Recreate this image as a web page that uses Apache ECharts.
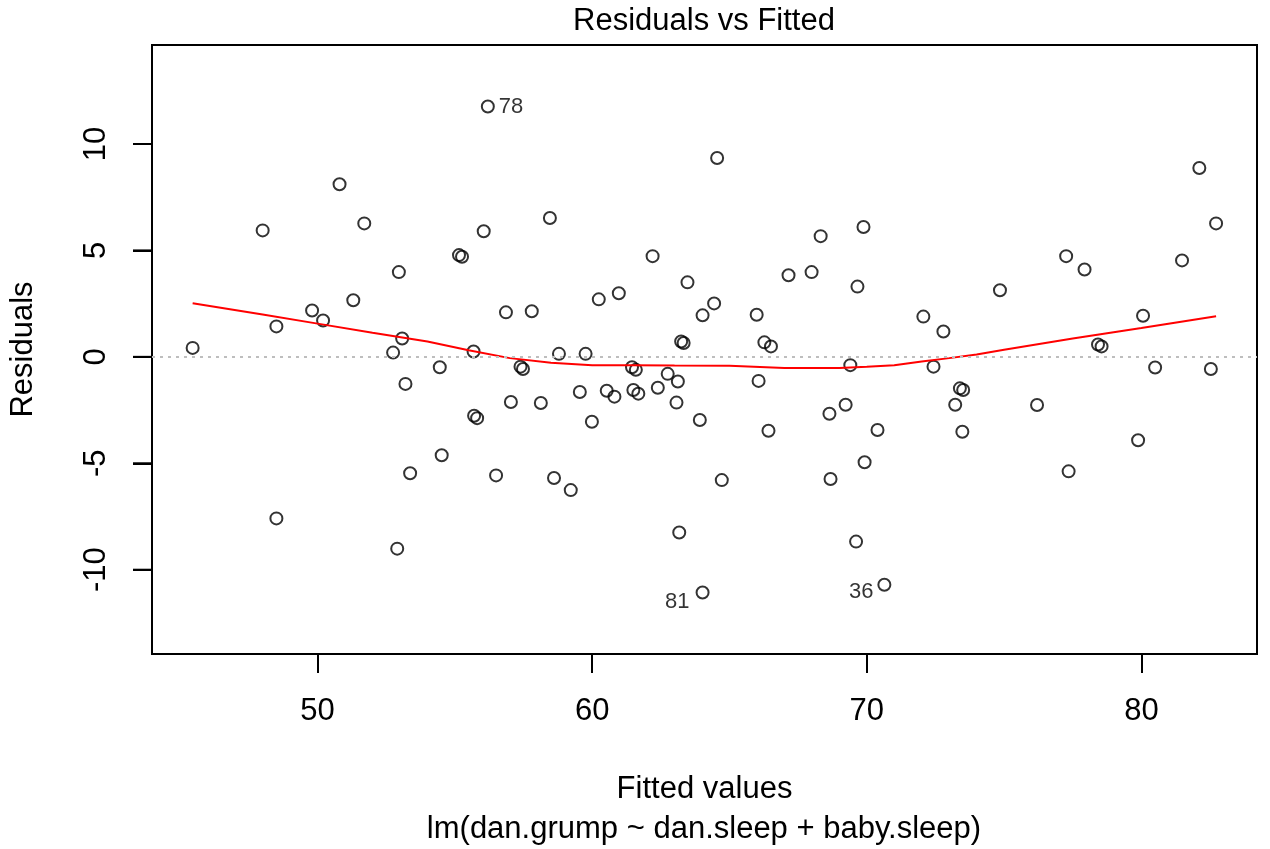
<!DOCTYPE html>
<html><head><meta charset="utf-8">
<script src="https://cdn.jsdelivr.net/npm/echarts@6/dist/echarts.min.js"></script>
<style>html,body{margin:0;padding:0;background:#fff}#c{width:1270px;height:849px}</style>
</head><body><div id="c"></div>
<script>
const fitted = [
  45.45, 48.0, 48.5, 50.8, 51.7, 49.8, 50.2, 51.3, 52.96, 53.08,
  52.75, 54.45, 56.2, 64.55, 58.46, 56.05, 55.15, 55.26, 62.2, 63.47,
  60.97, 60.24, 64.44, 64.02, 56.86, 57.8, 63.24, 63.33, 55.68, 58.79,
  59.76, 69.88, 68.32, 67.15, 67.99, 69.66, 65.99, 66.27, 66.51, 72.06,
  72.79, 74.85, 69.4, 72.43, 82.11, 82.72, 77.26, 77.93, 81.48, 80.06,
  78.42, 78.55, 80.5, 82.53, 76.2, 79.88, 77.35, 66.06, 69.23, 68.64,
  66.42, 70.39, 69.92, 64.72, 68.68, 69.61, 70.64, 73.39, 73.51, 73.22,
  73.48, 57.39, 57.48, 61.45, 61.59, 62.75, 63.12, 62.39, 59.55, 60.53,
  60.81, 61.5, 61.68, 63.07, 57.04, 58.13, 55.7, 55.81, 59.99, 63.92,
  54.52, 56.5, 58.61, 59.22, 63.17, 64.02, 53.2, 53.37, 48.5, 52.9
];
const residuals = [
  0.42, 5.94, 1.43, 8.11, 6.27, 2.18, 1.71, 2.66, 3.98, 0.86,
  0.2, -0.49, 11.76, 9.34, 6.52, 5.9, 4.78, 4.70, 4.73, 3.5,
  2.99, 2.70, 2.51, 1.95, 2.09, 2.14, 0.72, 0.65, 0.25, 0.14,
  0.14, 6.1, 5.67, 3.83, 3.98, 3.3, 1.98, 0.68, 0.49, 1.89,
  1.19, 3.13, -0.39, -0.46, 8.87, 6.27, 4.73, 4.1, 4.53, 1.93,
  0.58, 0.49, -0.5, -0.57, -2.26, -3.92, -5.38, -1.13, -2.25, -2.67,
  -3.47, -3.44, -4.95, -5.79, -5.74, -8.68, -10.71, -1.48, -1.56, -2.25,
  -3.52, -0.46, -0.57, -0.49, -0.61, -0.8, -1.16, -1.45, -1.65, -1.59,
  -1.87, -1.56, -1.73, -2.15, -2.12, -2.17, -2.77, -2.88, -3.05, -2.97,
  -4.62, -5.57, -5.69, -6.26, -8.25, -11.07, -1.27, -5.47, -7.59, -9.01
];
const lowessX = [45.45, 48.0, 50.0, 52.0, 54.0, 55.5, 57.0, 58.5, 60.0, 61.5, 63.0, 65.0, 67.0, 69.0, 70.0, 71.0, 72.0, 73.0, 74.0, 75.0, 77.5, 80.0, 82.72];
const lowessY = [2.52, 1.99, 1.56, 1.13, 0.72, 0.31, -0.06, -0.28, -0.39, -0.39, -0.41, -0.42, -0.52, -0.52, -0.47, -0.39, -0.22, -0.06, 0.11, 0.33, 0.86, 1.35, 1.91];
const xTicks = [50, 60, 70, 80];
const yTicks = [-10, -5, 0, 5, 10];
const idIndex = [12, 95, 66];
const idText = ['78', '81', '36'];

const X_MIN = 43.97, X_MAX = 84.21, Y_MIN = -13.96, Y_MAX = 14.65;
const FONT = "'Liberation Sans', Arial, sans-serif";
const TICK_LEN = 19;
const labelSide = {12: {position: 'right', distance: 4, offset: [0, 0]},
                   95: {position: 'left', distance: 6, offset: [0, 9]},
                   66: {position: 'left', distance: 4, offset: [0, 7]}};

const points = fitted.map((x, i) => {
  const k = idIndex.indexOf(i);
  const item = {value: [x, residuals[i]]};
  if (k >= 0) {
    const s = labelSide[i];
    item.label = {show: true, formatter: idText[k], position: s.position, distance: s.distance,
      offset: s.offset, fontSize: 22, color: '#000', fontFamily: FONT};
  }
  return item;
});

const chart = echarts.init(document.getElementById('c'), null, {renderer: 'canvas'});
const captionGraphic = {
  id: 'caption', type: 'text', x: 704, y: 829, silent: true,
  style: {text: 'lm(dan.grump ~ dan.sleep + baby.sleep)', fontSize: 31, fill: '#000', fontFamily: FONT,
    align: 'center', verticalAlign: 'middle'}
};
chart.setOption({
  animation: false,
  backgroundColor: '#fff',
  title: {
    text: 'Residuals vs Fitted', left: 704, textAlign: 'center', top: 6, padding: 0,
    textStyle: {fontSize: 31, lineHeight: 31, fontWeight: 'normal', color: '#000', fontFamily: FONT}
  },
  graphic: [captionGraphic],
  grid: {left: 151, top: 45, width: 1106, height: 609, show: true, borderColor: '#000', borderWidth: 2},
  xAxis: {
    type: 'value', min: X_MIN, max: X_MAX, position: 'bottom',
    axisLine: {show: true, onZero: false, lineStyle: {color: '#000', width: 2}}, splitLine: {show: false},
    axisTick: {show: true, customValues: xTicks, length: TICK_LEN, lineStyle: {color: '#000', width: 2}},
    axisLabel: {customValues: xTicks, margin: 42, fontSize: 31, lineHeight: 31, color: '#000', fontFamily: FONT},
    name: 'Fitted values', nameLocation: 'middle', nameGap: 120,
    nameTextStyle: {fontSize: 31, lineHeight: 31, color: '#000', fontFamily: FONT}
  },
  yAxis: {
    type: 'value', min: Y_MIN, max: Y_MAX, position: 'left',
    axisLine: {show: true, onZero: false, lineStyle: {color: '#000', width: 2}}, splitLine: {show: false},
    axisTick: {show: true, customValues: yTicks, length: TICK_LEN, lineStyle: {color: '#000', width: 2}},
    axisLabel: {customValues: yTicks, rotate: 90, margin: 40, fontSize: 31, lineHeight: 31, color: '#000', fontFamily: FONT},
    name: 'Residuals', nameLocation: 'middle', nameGap: 113, nameRotate: 90,
    nameTextStyle: {fontSize: 31, lineHeight: 31, color: '#000', fontFamily: FONT}
  },
  series: [
    {
      type: 'scatter', data: points, symbol: 'circle', symbolSize: 12,
      itemStyle: {color: 'rgba(0,0,0,0)', borderColor: '#000', borderWidth: 2},
      emphasis: {disabled: true}, silent: true,
      markLine: {
        silent: true, symbol: 'none', label: {show: false},
        lineStyle: {color: '#bebebe', type: [3, 5], width: 2},
        data: [{yAxis: 0}]
      }
    },
    {
      type: 'line', data: lowessX.map((x, i) => [x, lowessY[i]]),
      showSymbol: false, symbol: 'none', silent: true,
      lineStyle: {color: '#ff0000', width: 2}, itemStyle: {color: '#ff0000'},
      emphasis: {disabled: true}
    }
  ]
});

// y-axis tick marks placed through the chart's own y scale
const tickGraphics = yTicks.map((v, i) => {
  const p = chart.convertToPixel({xAxisIndex: 0, yAxisIndex: 0}, [X_MIN, v]);
  return {id: 'ytick' + i, type: 'line', silent: true, z: 100,
    shape: {x1: p[0] - TICK_LEN, y1: p[1], x2: p[0], y2: p[1]},
    style: {stroke: '#000', lineWidth: 2}};
});
chart.setOption({graphic: [captionGraphic].concat(tickGraphics)});
</script>
</body></html>
